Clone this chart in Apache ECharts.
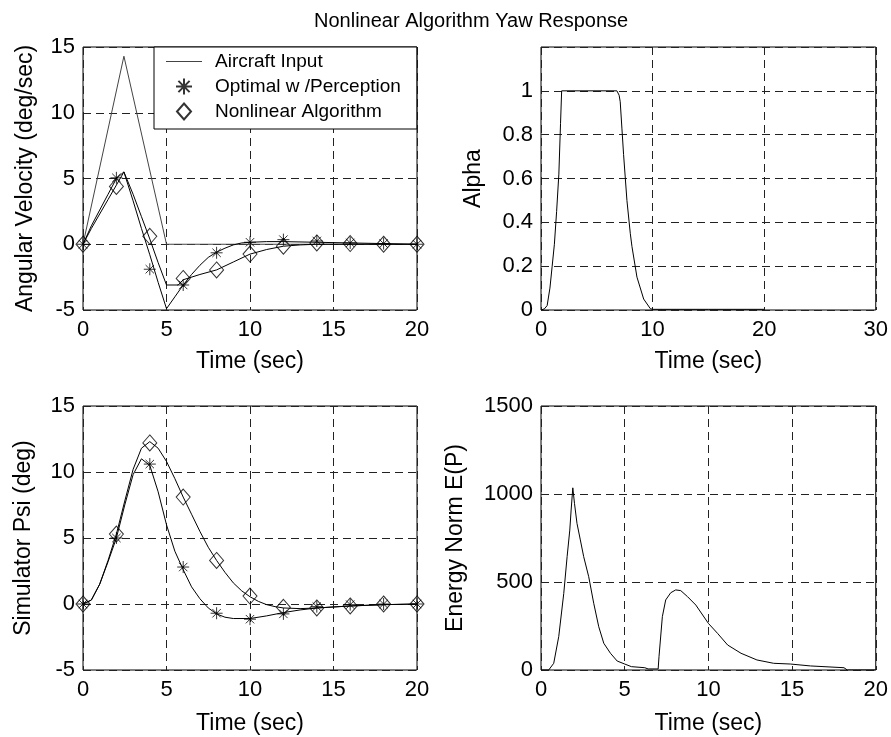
<!DOCTYPE html>
<html>
<head>
<meta charset="utf-8">
<script src="https://cdn.jsdelivr.net/npm/echarts@6/dist/echarts.min.js"></script>
<style>
  html, body { margin: 0; padding: 0; background: #fff; }
  #main { width: 891px; height: 737px; }
</style>
</head>
<body>
<div id="main"></div>
<script>
// marker times (every 2 s)
var markTimes = [0, 2, 4, 6, 8, 10, 12, 14, 16, 18, 20];

// top left: angular velocity
var inputT = [0, 2.45, 5, 20];
var inputV = [0, 14.3, 0, 0];
var velOptT = [0, 0.5, 1, 1.5, 2, 2.45, 3, 3.5, 4, 4.5, 5, 5.5, 6, 6.5, 7, 7.5, 8, 8.5, 9, 9.5, 10, 11, 12, 14, 16, 18, 20];
var velOptV = [0, 1.4, 2.6, 3.8, 5.0, 5.5, 3.3, 1.2, -0.8, -2.9, -4.9, -4.0, -3.1, -2.3, -1.6, -1.0, -0.6, -0.3, -0.05, 0.1, 0.15, 0.2, 0.2, 0.15, 0.1, 0.05, 0];
var velNonT = [0, 0.5, 1, 1.5, 2, 2.45, 3, 3.5, 4, 4.5, 5, 5.7, 6, 7, 8, 9, 10, 11, 12, 13, 14, 16, 18, 20];
var velNonV = [0, 1.2, 2.3, 3.4, 4.5, 5.5, 3.8, 2.1, 0.4, -1.4, -3.1, -3.1, -2.7, -2.3, -1.95, -1.35, -0.75, -0.4, -0.15, -0.05, 0, 0, 0, 0];
var velOptMarks = [0, 5.05, -1.9, -3.1, -0.65, 0.15, 0.35, 0.25, 0.1, 0.05, 0];
var velNonMarks = [0, 4.4, 0.6, -2.6, -1.95, -0.75, -0.15, 0.1, 0.05, 0, 0];

// top right: alpha
var alphaT = [0, 0.3, 0.55, 0.8, 1.0, 1.2, 1.4, 1.6, 1.75, 1.85, 6.8, 7.0, 7.1, 7.25, 7.4, 7.7, 8.0, 8.15, 8.6, 9.2, 9.8, 10, 15, 20];
var alphaV = [0, 0.005, 0.02, 0.1, 0.2, 0.3, 0.45, 0.62, 0.85, 1, 1, 0.98, 0.95, 0.83, 0.71, 0.5, 0.35, 0.29, 0.15, 0.05, 0.006, 0.003, 0.003, 0.003];

// bottom left: simulator psi
var psiOptT = [0, 0.5, 1, 1.5, 2, 2.5, 3, 3.5, 4, 4.5, 5, 5.5, 6, 6.5, 7, 7.5, 8, 8.5, 9, 10, 11, 12, 13, 14, 16, 18, 20];
var psiOptV = [0, 0.3, 1.5, 3.2, 5.0, 7.5, 9.8, 11.0, 10.5, 8.5, 6.0, 4.0, 2.6, 1.3, 0.4, -0.3, -0.75, -1.0, -1.1, -1.1, -0.9, -0.65, -0.45, -0.3, -0.15, -0.05, 0];
var psiNonT = [0, 0.5, 1, 1.5, 2, 2.5, 3, 3.5, 4, 4.5, 5, 5.5, 6, 6.5, 7, 7.5, 8, 8.5, 9, 9.5, 10, 10.5, 11, 11.5, 12, 13, 14, 16, 18, 20];
var psiNonV = [0, 0.3, 1.5, 3.3, 5.3, 7.8, 10.2, 11.8, 12.3, 11.8, 10.8, 9.5, 8.1, 6.8, 5.5, 4.3, 3.3, 2.4, 1.6, 1.0, 0.55, 0.2, -0.05, -0.2, -0.3, -0.35, -0.3, -0.15, -0.05, 0];
var psiOptMarks = [0, 5.0, 10.6, 2.8, -0.7, -1.15, -0.75, -0.2, -0.05, 0, 0];
var psiNonMarks = [0, 5.3, 12.2, 8.1, 3.3, 0.6, -0.25, -0.3, -0.15, 0, 0];

// bottom right: energy norm
var energyT = [0, 0.46, 0.76, 1.06, 1.36, 1.56, 1.72, 1.8, 1.9, 2.0, 2.15, 2.35, 2.55, 2.85, 3.15, 3.45, 3.75, 4.15, 4.55, 5.0, 5.4, 6.2, 6.4, 7.0, 7.05, 7.25, 7.45, 7.75, 8.05, 8.35, 8.75, 9.25, 10, 10.55, 11.15, 11.95, 12.9, 13.9, 14.9, 16.1, 18.1, 18.3, 20];
var energyV = [0, 0, 38, 190, 435, 644, 795, 909, 1035, 947, 833, 739, 644, 530, 379, 246, 152, 95, 51, 34, 19, 13, 6, 6, 76, 303, 398, 439, 455, 451, 417, 369, 265, 208, 142, 95, 57, 38, 34, 23, 13, 0, 0];

function zip(t, v) {
  return t.map(function (x, i) { return [x, v[i]]; });
}

var FONT = '"Liberation Sans", Arial, Helvetica, sans-serif';
var starPath = 'path://M0,-10L0,10M-10,0L10,0M-7,-7L7,7M-7,7L7,-7';
var diamondPath = 'path://M0,-8L7,0L0,8L-7,0Z';
var linePath = 'path://M0,0L36,0L36,1L0,1Z';

var grids = [
  { left: 83, top: 47, width: 334, height: 263 },
  { left: 541, top: 47, width: 335, height: 263 },
  { left: 83, top: 406, width: 334, height: 264 },
  { left: 541, top: 406, width: 335, height: 264 }
];
grids.forEach(function (g) {
  g.show = true;
  g.borderColor = '#000';
  g.borderWidth = 1;
  g.backgroundColor = '#fff';
});

var split = { show: true, lineStyle: { color: '#222', type: [8, 5], width: 1 } };

function xAx(i, max, step, gap) {
  return {
    type: 'value', gridIndex: i, min: 0, max: max, interval: step,
    name: 'Time (sec)', nameLocation: 'middle', nameGap: gap,
    nameTextStyle: { fontSize: 23, color: '#000', fontFamily: FONT },
    axisLine: { show: false }, axisTick: { show: false },
    axisLabel: { fontSize: 22, color: '#000', fontFamily: FONT, margin: 9 },
    splitLine: split
  };
}
function yAx(i, min, max, step, name, gap, fmt) {
  return {
    type: 'value', gridIndex: i, min: min, max: max, interval: step,
    name: name, nameLocation: 'middle', nameGap: gap,
    nameTextStyle: { fontSize: 23, color: '#000', fontFamily: FONT },
    axisLine: { show: false }, axisTick: { show: false },
    axisLabel: { fontSize: 22, color: '#000', fontFamily: FONT, margin: 8, formatter: fmt || function (v) { return String(v); } },
    splitLine: split
  };
}

function line(name, xi, data, color) {
  return {
    name: name, type: 'line', xAxisIndex: xi, yAxisIndex: xi,
    data: data, symbol: 'none', showSymbol: false,
    lineStyle: { color: color || '#000', width: 1 },
    itemStyle: { color: color || '#000' },
    animation: false, z: 2
  };
}
function marks(name, xi, vals, symbol, size) {
  return {
    name: name, type: 'scatter', xAxisIndex: xi, yAxisIndex: xi,
    data: zip(markTimes, vals), symbol: symbol, symbolSize: size,
    itemStyle: { color: 'rgba(0,0,0,0)', borderColor: '#000', borderWidth: 1 },
    animation: false, z: 3
  };
}

var myChart = echarts.init(document.getElementById('main'));
myChart.setOption({
  backgroundColor: '#fff',
  animation: false,
  title: {
    text: 'Nonlinear Algorithm Yaw Response', left: 309, top: 6,
    textStyle: { fontSize: 20, fontWeight: 'normal', color: '#000', fontFamily: FONT }
  },
  legend: {
    orient: 'vertical', left: 154, top: 47,
    data: [
      { name: 'Aircraft Input', icon: linePath },
      { name: 'Optimal w /Perception' },
      { name: 'Nonlinear Algorithm', icon: diamondPath }
    ],
    backgroundColor: '#fff', borderColor: '#000', borderWidth: 1, borderRadius: 0,
    padding: [5, 16, 8, 12], itemGap: 6, itemWidth: 36, itemHeight: 16,
    textStyle: { fontSize: 19, color: '#000', fontFamily: FONT, padding: [0, 0, 0, 8] },
    selectedMode: false
  },
  grid: grids,
  xAxis: [xAx(0, 20, 5, 40), xAx(1, 30, 10, 40), xAx(2, 20, 5, 42), xAx(3, 20, 5, 42)],
  yAxis: [
    yAx(0, -5, 15, 5, 'Angular Velocity (deg/sec)', 46),
    yAx(1, 0, 1.2, 0.2, 'Alpha', 56, function (v) { return v > 1.05 ? '' : String(Math.round(v * 10) / 10); }),
    yAx(2, -5, 15, 5, 'Simulator Psi (deg)', 48),
    yAx(3, 0, 1500, 500, 'Energy Norm E(P)', 74)
  ],
  series: [
    line('Aircraft Input', 0, zip(inputT, inputV), '#444'),
    line('velOpt', 0, zip(velOptT, velOptV)),
    line('velNon', 0, zip(velNonT, velNonV)),
    marks('Optimal w /Perception', 0, velOptMarks, starPath, 12),
    marks('Nonlinear Algorithm', 0, velNonMarks, 'diamond', [14, 16]),
    line('alpha', 1, zip(alphaT, alphaV)),
    line('psiOpt', 2, zip(psiOptT, psiOptV)),
    line('psiNon', 2, zip(psiNonT, psiNonV)),
    marks('psiOptMarks', 2, psiOptMarks, starPath, 12),
    marks('psiNonMarks', 2, psiNonMarks, 'diamond', [14, 16]),
    line('energy', 3, zip(energyT, energyV))
  ]
});
window.onresize = myChart.resize;
</script>
</body>
</html>
